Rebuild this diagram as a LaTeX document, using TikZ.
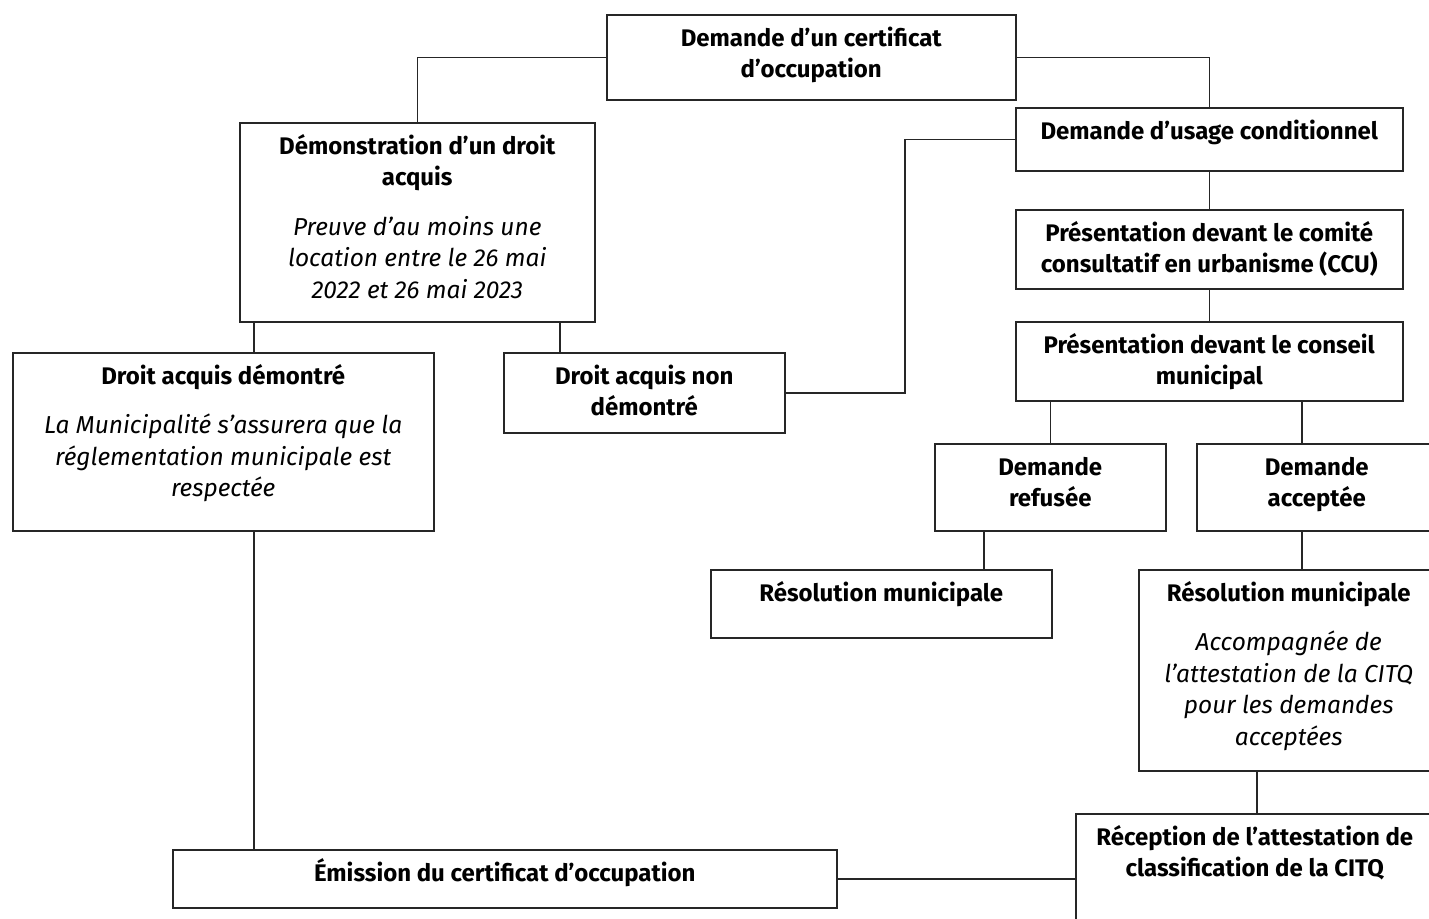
\documentclass[tikz,border=0pt]{standalone}
\usepackage{fontspec}
\setmainfont{Fira Sans}
\newcommand{\bx}[3]{\parbox[t][#2pt][t]{#1pt}{\centering\fontsize{24}{31.5}\selectfont\parskip=0pt\rule{0pt}{31.5pt}#3}}
\newcommand{\gap}{\par\vspace{18pt}}
\newcommand{\desc}{\fontsize{24.5}{31.5}\selectfont\mdseries\itshape}
\tikzset{
  box/.style={draw=black!85, line width=1.5pt, inner sep=0pt, anchor=north west, fill=white},
  conn/.style={draw=black!85, line width=1.5pt},
}
\begin{document}
\begin{tikzpicture}[x=1pt,y=-1pt]
\useasboundingbox (0,0) rectangle (1429,918);
\clip (0,0) rectangle (1429,918);
\fill[white] (0,0) rectangle (1429,918);
% coordinates for off-centre connectors
\coordinate (xa) at (254,0);
\coordinate (xb) at (560,0);
\coordinate (xc) at (984,0);
\coordinate (xd) at (1302,0);
\coordinate (xe) at (1257,0);
\coordinate (k) at (905,141);

\node[box] (top) at (606,14) {\bx{409}{85}{\bfseries Demande d’un certificat\\d’occupation}};
\node[box] (demo) at (239,122) {\bx{355}{199}{\bfseries Démonstration d’un droit\\acquis\gap\desc Preuve d’au moins une\\location entre le 26 mai\\2022 et 26 mai 2023}};
\node[box] (dad) at (12,352) {\bx{421}{178}{\bfseries Droit acquis démontré\gap\desc La Municipalité s’assurera que la\\réglementation municipale est\\respectée}};
\node[box] (dnd) at (503,352) {\bx{281}{80}{\bfseries Droit acquis non\\démontré}};
\node[box] (usage) at (1015,107) {\bx{387}{63}{\bfseries Demande d’usage conditionnel}};
\node[box] (ccu) at (1015,209) {\bx{387}{79}{\bfseries Présentation devant le comité\\consultatif en urbanisme (CCU)}};
\node[box] (conseil) at (1015,321) {\bx{387}{79}{\bfseries Présentation devant le conseil\\municipal}};
\node[box] (refus) at (934,443) {\bx{231}{87}{\bfseries Demande\\refusée}};
\node[box] (accept) at (1196,443) {\bx{240}{87}{\bfseries Demande\\acceptée}};
\node[box] (res1) at (710,569) {\bx{341}{68}{\bfseries Résolution municipale}};
\node[box] (res2) at (1138,569) {\bx{300}{201}{\bfseries Résolution municipale\gap\desc Accompagnée de\\l’attestation de la CITQ\\pour les demandes\\acceptées}};
\node[box] (recep) at (1075,813) {\bx{358}{150}{\bfseries Réception de l’attestation de\\classification de la CITQ}};
\node[box] (emis) at (172,849) {\bx{664}{58}{\bfseries Émission du certificat d’occupation}};

\draw[conn] (top.west) -| (demo.north);
\draw[conn] (top.east) -| (usage.north);
\draw[conn] (demo.south -| xa) -- (dad.north -| xa);
\draw[conn] (demo.south -| xb) -- (dnd.north -| xb);
\draw[conn] (dnd.east) -- (dnd.east -| k) -- (k |- usage.west) -- (usage.west);
\draw[conn] (usage.south) -- (ccu.north);
\draw[conn] (ccu.south) -- (conseil.north);
\draw[conn] (refus.north) -- (refus.north |- conseil.south);
\draw[conn] (conseil.south -| xd) -- (accept.north -| xd);
\draw[conn] (refus.south -| xc) -- (res1.north -| xc);
\draw[conn] (accept.south -| xd) -- (res2.north -| xd);
\draw[conn] (res2.south -| xe) -- (recep.north -| xe);
\draw[conn] (dad.south -| xa) -- (emis.north -| xa);
\draw[conn] (emis.east) -- (emis.east -| recep.west);
\end{tikzpicture}
\end{document}
